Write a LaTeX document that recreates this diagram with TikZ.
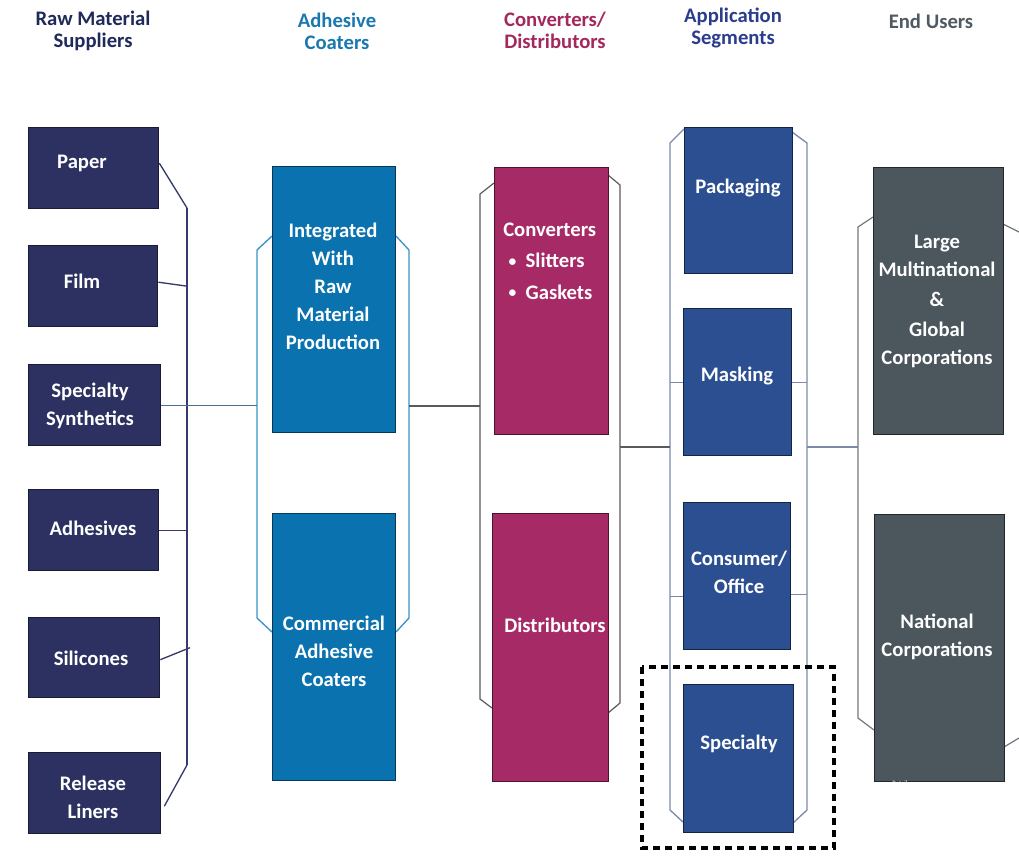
\documentclass[tikz,border=0pt]{standalone}
\usepackage{fontspec}
\setmainfont{Carlito}
\usetikzlibrary{calc}

% fills
\definecolor{rawfill}{HTML}{2D3161}
\definecolor{coatfill}{HTML}{0B72B0}
\definecolor{convfill}{HTML}{A62A65}
\definecolor{appfill}{HTML}{2C4F92}
\definecolor{endfill}{HTML}{4B565D}
% outlines and connector lines
\definecolor{rawline}{HTML}{363A6C}
\definecolor{coatline}{HTML}{3A93C8}
\definecolor{convline}{HTML}{5A5A5E}
\definecolor{appline}{HTML}{7C89A8}
\definecolor{endline}{HTML}{70787F}
\definecolor{midline}{HTML}{4F6E92}
% column headings
\definecolor{rawhdr}{HTML}{1F2A5A}
\definecolor{coathdr}{HTML}{1A78B0}
\definecolor{convhdr}{HTML}{A3285E}
\definecolor{apphdr}{HTML}{2A3D8C}
\definecolor{endhdr}{HTML}{4F5A62}

\newcommand{\smallbul}{\raisebox{0.15ex}{\scalebox{0.75}{\textbullet}}}

\tikzset{
  blk/.style={inner sep=0pt, anchor=north west, line width=1pt, rectangle},
  rawbox/.style={blk, fill=rawfill, draw=rawfill!55!black},
  coatbox/.style={blk, fill=coatfill, draw=coatfill!50!black},
  convbox/.style={blk, fill=convfill, draw=convfill!45!black},
  appbox/.style={blk, fill=appfill, draw=appfill!45!black},
  endbox/.style={blk, fill=endfill, draw=endfill!45!black},
  lbl/.style={text=white, font=\fontsize{15.5}{21}\selectfont\bfseries, align=center, inner sep=0pt},
  hdr/.style={font=\fontsize{15.5}{16.5}\selectfont\bfseries, align=center, inner sep=0pt},
  rawln/.style={draw=rawline, line width=1pt},
  coatln/.style={draw=coatline, line width=1pt},
  convln/.style={draw=convline, line width=0.9pt},
  appln/.style={draw=appline, line width=1pt},
  endln/.style={draw=endline, line width=0.9pt},
  midln/.style={draw=midline, line width=0.9pt}
}

\begin{document}
\begin{tikzpicture}[x=0.75pt,y=-0.75pt]
\useasboundingbox[fill=white] (0,0) rectangle (1019,858);

% ---------- column headings ----------
\node[hdr, text=rawhdr]  (h-raw)  at (93,31)  {Raw Material\\Suppliers};
\node[hdr, text=coathdr] (h-coat) at (337,31) {Adhesive\\Coaters};
\node[hdr, text=convhdr] (h-conv) at (555,30) {Converters/\\Distributors};
\node[hdr, text=apphdr]  (h-app)  at (733,28) {Application\\Segments};
\node[hdr, text=endhdr]  (h-end)  at (931,21) {End Users};

% ---------- bracket anchor points ----------
\coordinate (rT) at (187,208);
\coordinate (rB) at (187,765);
\coordinate (cbL) at (257,406);
\coordinate (cbR) at (409,406);
\coordinate (vbL) at (480,406);
\coordinate (vbR) at (620,447);
\coordinate (abL) at (670,447);
\coordinate (abR) at (807,447);
\coordinate (ebL) at (858,447);

% ---------- brackets ----------
\draw[rawln] (rT) -- (rB);
\draw[coatln] (272,236) -- (257,250) -- (257,618) -- (272,632);
\draw[coatln] (396,236) -- (409,250) -- (409,618) -- (396,632);
\draw[convln] (494,183) -- (480,194) -- (480,699) -- (492,708);
\draw[convln] (608,175) -- (620,185) -- (620,703) -- (608,713);
\draw[appln] (684,129) -- (670,143) -- (670,810) -- (683,822);
\draw[appln] (792,132) -- (807,143) -- (807,810) -- (793,823);
\draw[endln] (873,217) -- (858,227) -- (858,718) -- (874,730);
\draw[endln] (1003,224) -- (1019,232);
\draw[endln] (1004,747) -- (1019,738);

% ---------- boxes (sizes in px, 1px = 0.75pt) ----------
\node[rawbox, minimum width=97.5pt, minimum height=60.75pt] (paper) at (28,127) {};
\node[rawbox, minimum width=96.75pt, minimum height=60.75pt] (film)  at (28,245) {};
\node[rawbox, minimum width=99pt, minimum height=60.75pt] (spec)  at (28,364) {};
\node[rawbox, minimum width=97.5pt, minimum height=60.75pt] (adh)   at (28,489) {};
\node[rawbox, minimum width=98.25pt, minimum height=60pt] (sil)   at (28,617) {};
\node[rawbox, minimum width=99pt, minimum height=60.75pt] (rel)   at (28,752) {};

\node[coatbox, minimum width=92.25pt, minimum height=199.5pt] (integ) at (272,166) {};
\node[coatbox, minimum width=92.25pt, minimum height=200.25pt] (comm)  at (272,513) {};

\node[convbox, minimum width=85.5pt, minimum height=200.25pt] (conv) at (494,167) {};
\node[convbox, minimum width=87pt, minimum height=201pt] (dist) at (492,513) {};

\node[appbox, minimum width=81pt, minimum height=109.5pt] (pack)  at (684,127) {};
\node[appbox, minimum width=81pt, minimum height=110.25pt] (mask)  at (683,308) {};
\node[appbox, minimum width=80.25pt, minimum height=110.25pt] (cons)  at (683,502) {};
\node[appbox, minimum width=82.5pt, minimum height=111pt] (spclt) at (683,684) {};

\node[endbox, minimum width=97.5pt, minimum height=200.25pt] (large) at (873,167) {};
\node[endbox, minimum width=97.5pt, minimum height=200.25pt] (natl)  at (874,514) {};

% ---------- connectors ----------
\draw[rawln] ($(paper.east)+(0,-5)$) -- (rT);
\draw[rawln] ($(film.east)+(0,-4)$) -- (film.east -| rT);
\draw[rawln] (adh.east) -- (adh.east -| rT);
\draw[rawln] ($(sil.east)+(0,2)$) -- ($(sil.east -| rT)+(3,-10)$);
\draw[rawln] ($(rel.east)+(3,13)$) -- (rB);
\draw[midln] (spec.east) -- (spec.east -| cbL);
\draw[convln] (cbR) -- (vbL);
\draw[convln] (vbR) -- (abL);
\draw[appln] (abR) -- (ebL);
\draw[appln] (mask.west) -- (mask.west -| abL);
\draw[appln] (mask.east) -- (mask.east -| abR);
\draw[appln] ($(cons.west)+(0,20)$) -- ($(cons.west -| abL)+(0,20)$);
\draw[appln] ($(cons.east)+(0,18)$) -- ($(cons.east -| abR)+(0,18)$);

% ---------- box labels ----------
\node[lbl] (paper-t) at (82,163) {Paper};
\node[lbl] (film-t)  at (82,281) {Film};
\node[lbl] (spec-t)  at (90,406) {Specialty\\Synthetics};
\node[lbl] (adh-t)   at (93,528) {Adhesives};
\node[lbl] (sil-t)   at (91,658) {Silicones};
\node[lbl] (rel-t)   at (93,797) {Release\\Liners};

\node[lbl] (integ-t) at (333,286) {Integrated\\With\\Raw\\Material\\Production};
\node[lbl] (comm-t)  at (334,651) {Commercial\\Adhesive\\Coaters};

\node[lbl, align=left, anchor=west] (conv-t) at (503,261)
  {Converters\\[2.5pt]\hspace*{4pt}\smallbul\hspace{7pt}Slitters\\[2.5pt]\hspace*{4pt}\smallbul\hspace{7pt}Gaskets};
\node[lbl] (dist-t) at (555,625) {Distributors};

\node[lbl] (pack-t)  at (738,188) {Packaging};
\node[lbl] (mask-t)  at (737,376) {Masking};
\node[lbl] (cons-t)  at (739,572) {Consumer/\\Office};
\node[lbl] (spclt-t) at (739,744) {Specialty};

\node[lbl] (large-t) at (937,301) {Large\\Multinational\\[1.5pt]\&\\[1.5pt]Global\\Corporations};
\node[lbl] (natl-t)  at (937,637) {National\\Corporations};
\node[text=white, font=\fontsize{5}{5}\selectfont, inner sep=0pt, anchor=base west] (retail) at (892,785) {Retail};

% ---------- highlight frame ----------
\draw[black, line width=3pt, dash pattern=on 5.5pt off 3.5pt] (642,667) rectangle (834,848);
\end{tikzpicture}
\end{document}
